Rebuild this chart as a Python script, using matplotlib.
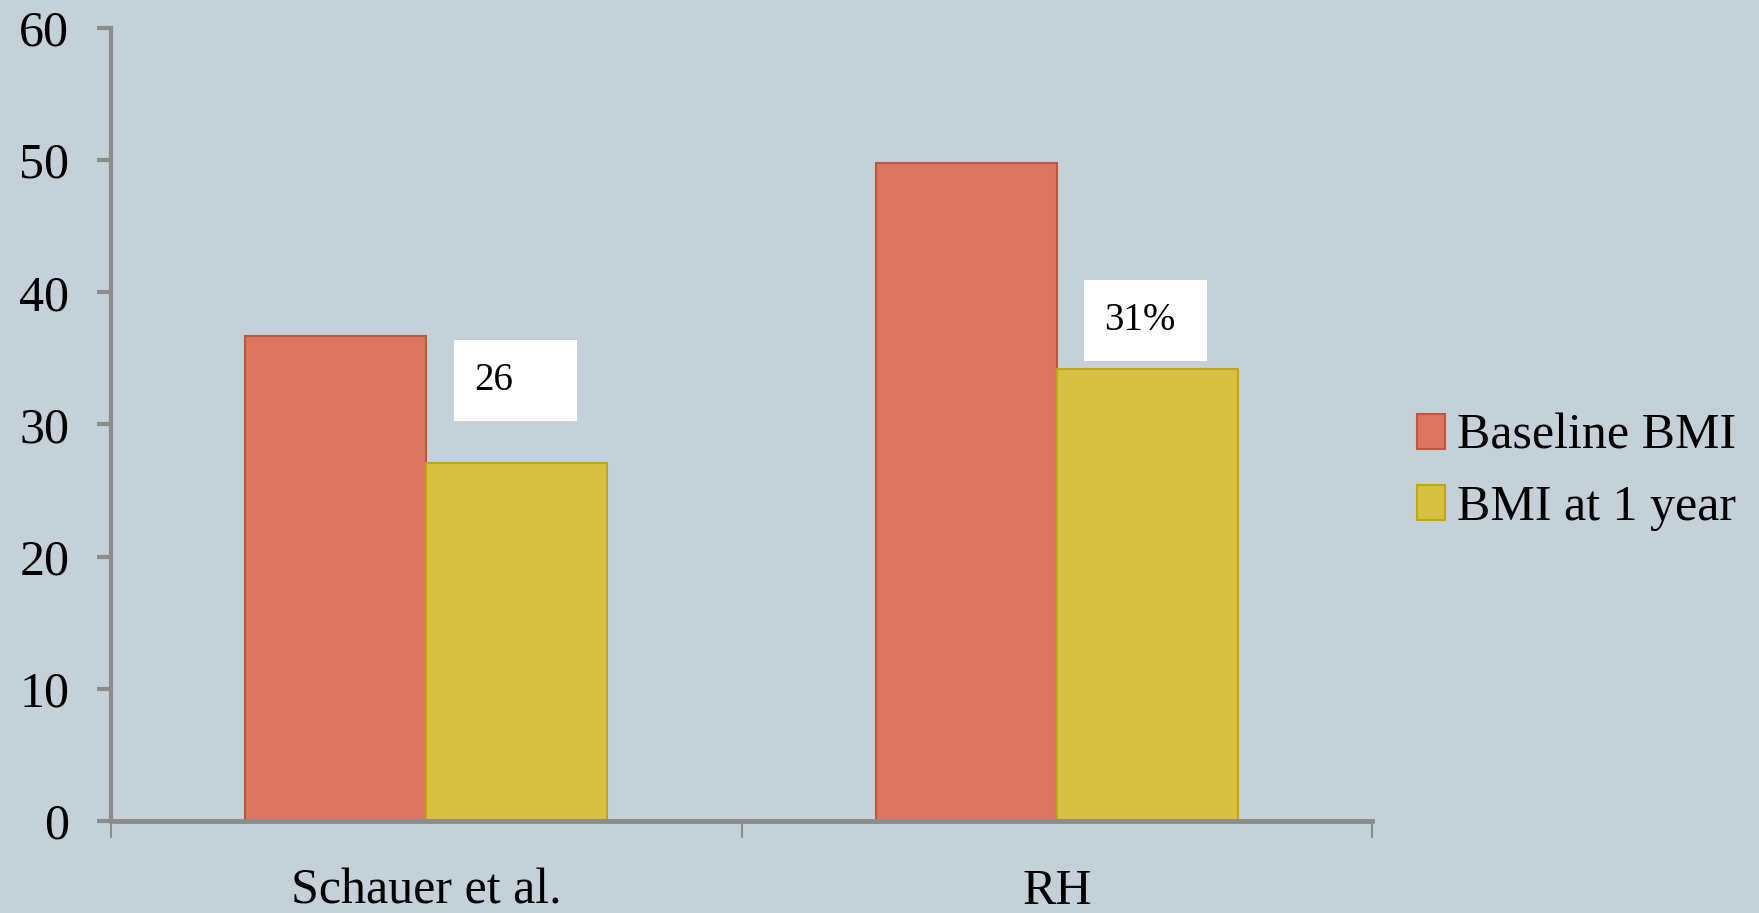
import numpy as np
import matplotlib.pyplot as plt
from matplotlib.patches import Rectangle

categories = ["Schauer et al.", "RH"]
baseline_bmi = [36.7, 49.8]
bmi_1year = [27.1, 34.2]
series_names = ["Baseline BMI", "BMI at 1 year"]
point_labels = ["26", "31%"]
label_box_bottom = [30.3, 34.8]

plt.rcParams["font.family"] = ["Liberation Serif", "DejaVu Serif"]

bg = "#c5d1d8"
red = "#de7563"
red_edge = "#c0553f"
yellow = "#d8c043"
yellow_edge = "#bfa51a"
axis_gray = "#8c8c8c"

fig = plt.figure(figsize=(17.59, 9.13), dpi=100, facecolor=bg)
ax = fig.add_axes([0.0631, 0.1008, 0.7170, 0.8685], facecolor=bg)

x = np.arange(len(categories))
w = 0.287
ax.bar(x - w / 2, baseline_bmi, w, color=red, edgecolor=red_edge,
       linewidth=1.5, label=series_names[0], zorder=2)
ax.bar(x + w / 2, bmi_1year, w, color=yellow, edgecolor=yellow_edge,
       linewidth=1.5, label=series_names[1], zorder=2)

# white label boxes above the 1-year bars
box_w, box_h = 0.195, 6.1
for i, txt in enumerate(point_labels):
    left = x[i] + w / 2 - 0.10
    ax.add_patch(Rectangle((left, label_box_bottom[i]), box_w, box_h,
                           facecolor="white", edgecolor="none", zorder=3))
    ax.text(left + 0.032, label_box_bottom[i] + box_h / 2, txt,
            fontsize=28, va="center", ha="left", zorder=4)

ax.set_xlim(-0.5, 1.5)
ax.set_ylim(0, 60)
ax.set_yticks(np.arange(0, 61, 10))
ax.set_xticks([-0.5, 0.5, 1.5])
ax.set_xticklabels([])
ax.set_xticks(x, minor=True)
ax.set_xticklabels(categories, minor=True, fontsize=36)
ax.tick_params(axis="x", which="major", length=12, width=1.5, color=axis_gray)
ax.tick_params(axis="x", which="minor", length=0, pad=34)
ax.tick_params(axis="y", length=10, width=3, color=axis_gray, pad=20,
               labelsize=36)

for s in ["top", "right"]:
    ax.spines[s].set_visible(False)
ax.spines["left"].set_color(axis_gray)
ax.spines["left"].set_linewidth(3)
ax.spines["bottom"].set_color(axis_gray)
ax.spines["bottom"].set_linewidth(3.5)

ax.legend(loc="center left", bbox_to_anchor=(1.02, 0.44), frameon=False,
          fontsize=36, handlelength=0.55, handleheight=0.7, handletextpad=0.25,
          labelspacing=0.5, borderaxespad=0)

fig.savefig("out.png", dpi=100, facecolor=bg)
